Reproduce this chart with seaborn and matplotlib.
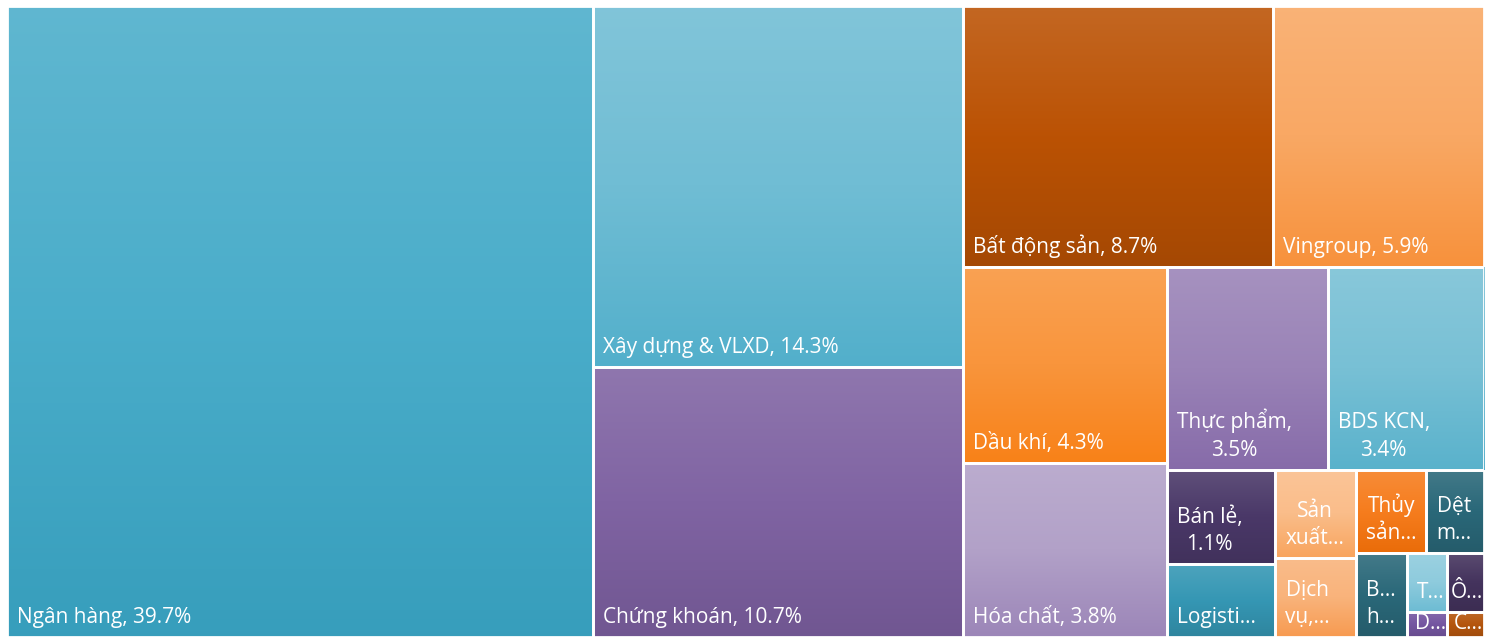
import colorsys
import numpy as np
import matplotlib
matplotlib.use("Agg")
import matplotlib.pyplot as plt
from matplotlib.patches import Rectangle
from matplotlib.colors import LinearSegmentedColormap, to_rgb
import seaborn as sns

# ---------------- data ----------------
sectors = ["Ngân hàng", "Xây dựng & VLXD", "Chứng khoán", "Bất động sản", "Vingroup",
           "Dầu khí", "Hóa chất", "Thực phẩm", "BDS KCN", "Bán lẻ",
           "Logistics", "Sản xuất", "Dịch vụ", "Thủy sản", "Dệt may",
           "Bảo hiểm", "T", "Ô", "D", "C"]
weights = [39.7, 14.3, 10.7, 8.7, 5.9,
           4.3, 3.8, 3.5, 3.4, 1.1,
           0.85, 0.77, 0.68, 0.63, 0.52,
           0.46, 0.25, 0.23, 0.11, 0.10]
labels = ["Ngân hàng, 39.7%", "Xây dựng & VLXD, 14.3%", "Chứng khoán, 10.7%",
          "Bất động sản, 8.7%", "Vingroup, 5.9%", "Dầu khí, 4.3%", "Hóa chất, 3.8%",
          "Thực phẩm,\n3.5%", "BDS KCN,\n3.4%", "Bán lẻ,\n1.1%",
          "Logisti...", "Sản\nxuất...", "Dịch\nvụ,...", "Thủy\nsản...", "Dệt\nm...",
          "B...\nh...", "T...", "Ô...", "D...", "C..."]
colors = ["#4AADCA", "#70BDD4", "#8064A3", "#BB5204", "#F9A864",
          "#F9953C", "#B2A1C8", "#9A83B7", "#78C0D5", "#4A3868",
          "#3597B4", "#FABD8A", "#F9B37B", "#F67D1E", "#2A6879",
          "#2A6879", "#8ECBDD", "#44335D", "#7556A1", "#B5560E"]

# ---------------- figure ----------------
sns.set_theme(style="white")
plt.rcParams["font.family"] = ["Open Sans", "DejaVu Sans"]

FW, FH, DPI = 14.85, 6.37, 100
fig = plt.figure(figsize=(FW, FH), dpi=DPI)
fig.patch.set_facecolor("white")
ax_box = [7 / 1485, 0.0, 1477 / 1485, 631 / 637]
ax = fig.add_axes(ax_box)
W = FW * DPI * ax_box[2]
H = FH * DPI * ax_box[3]
ax.set_xlim(0, W)
ax.set_ylim(H, 0)
ax.axis("off")


def worst(row, side):
    s = sum(row)
    return max(max(side * side * r / (s * s), s * s / (side * side * r)) for r in row)


def squarify(vals, x, y, w, h):
    out = []
    vals = list(vals)
    while vals:
        side = h if w >= h else w
        row = [vals[0]]
        i = 1
        while i < len(vals) and worst(row + [vals[i]], side) <= worst(row, side):
            row.append(vals[i])
            i += 1
        s = sum(row)
        if w >= h:
            cw = s / h
            yy = y
            for r in row:
                rh = r / cw
                out.append((x, yy, cw, rh))
                yy += rh
            x += cw
            w -= cw
        else:
            rh = s / w
            xx = x
            for r in row:
                rw = r / rh
                out.append((xx, y, rw, rh))
                xx += rw
            y += rh
            h -= rh
        vals = vals[i:]
    return out


total = sum(weights)
areas = [v / total * W * H for v in weights]
rects = squarify(areas, 0.0, 0.0, W, H)


def lighten(c, t):
    c = np.array(to_rgb(c))
    return tuple(c + (1 - c) * t)


def darken(c, lf):
    h, l, s = colorsys.rgb_to_hls(*to_rgb(c))
    return colorsys.hls_to_rgb(h, l * lf, s)


renderer = fig.canvas.get_renderer()
grad = np.linspace(0, 1, 256).reshape(-1, 1)
for (x, y, w, h), col, lab in zip(rects, colors, labels):
    top = lighten(col, 0.12)
    bot = darken(col, 0.88)
    cmap = LinearSegmentedColormap.from_list("g", sns.blend_palette([top, col, bot], 3))
    ax.imshow(grad, extent=(x, x + w, y + h, y), cmap=cmap, aspect="auto",
              interpolation="bilinear", origin="upper", zorder=1)
    ax.add_patch(Rectangle((x, y), w, h, fill=False, edgecolor="white", lw=2, zorder=2))
    t = ax.text(x + 10, y + h - 9, lab, color="white", fontsize=15,
                ha="left", va="bottom", multialignment="center", zorder=3,
                linespacing=1.4)
    bb = t.get_window_extent(renderer)
    tx, ty = x + 10, y + h - 9
    if tx + bb.width > x + w - 1:
        tx = max(x + 2, x + w - 1 - bb.width)
    if bb.height + 9 > h:
        ty = y + 1 + bb.height
    t.set_position((tx, ty))
    t.set_clip_path(Rectangle((x, y), w, h, transform=ax.transData))

fig.savefig("out.png", dpi=DPI, facecolor="white")
